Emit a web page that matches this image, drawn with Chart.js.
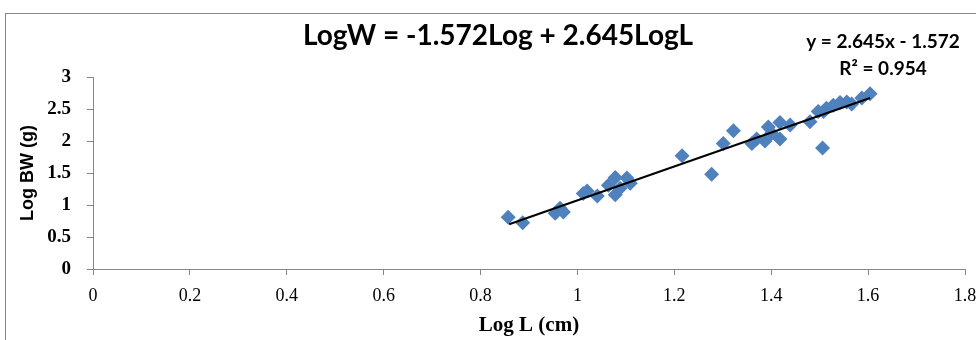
<!DOCTYPE html>
<html>
<head>
<meta charset="utf-8">
<script src="https://cdn.jsdelivr.net/npm/chart.js@4.4.1/dist/chart.umd.min.js"></script>
<style>
  body { margin: 0; background: #fff; }
  #wrap { position: relative; width: 976px; height: 340px; }
</style>
</head>
<body>
<div id="wrap"><canvas id="chart" width="976" height="340"></canvas></div>
<script>
// length-weight data
const logL = [0.857, 0.887, 0.954, 0.964, 0.971, 1.012, 1.020, 1.041, 1.064, 1.078,
  1.078, 1.088, 1.102, 1.109, 1.216, 1.277, 1.301, 1.322, 1.360, 1.370,
  1.387, 1.394, 1.401, 1.418, 1.418, 1.439, 1.480, 1.506, 1.497, 1.508,
  1.514, 1.528, 1.542, 1.556, 1.566, 1.587, 1.604];
const logW = [0.807, 0.724, 0.87, 0.948, 0.89, 1.18, 1.22, 1.14, 1.31, 1.43,
  1.16, 1.26, 1.42, 1.34, 1.77, 1.48, 1.96, 2.16, 1.96, 2.03,
  2.0, 2.22, 2.12, 2.03, 2.29, 2.25, 2.30, 1.89, 2.46, 2.46,
  2.51, 2.56, 2.6, 2.61, 2.58, 2.67, 2.74];

// trendline end points
const trendX = [0.859, 1.604];
const trendY = [0.700, 2.671];

const chartTitle = 'LogW = -1.572Log + 2.645LogL';
const eqLines = ['y = 2.645x - 1.572', 'R\u00B2 = 0.954'];
const xTitle = 'Log L (cm)';
const yTitle = 'Log BW (g)';

const gray = '#868686';

const decor = {
  id: 'decor',
  beforeDraw(chart) {
    const ctx = chart.ctx;
    ctx.save();
    ctx.strokeStyle = gray;
    ctx.lineWidth = 1;
    ctx.strokeRect(5.5, 13.5, 1000, 400);
    ctx.restore();
  },
  afterDraw(chart) {
    const ctx = chart.ctx;
    ctx.save();
    ctx.fillStyle = '#000';
    ctx.textAlign = 'center';
    ctx.textBaseline = 'alphabetic';
    ctx.font = 'bold 28px Lato';
    ctx.fillText(chartTitle, 498, 45);
    ctx.font = 'bold 19px Lato';
    ctx.fillText(eqLines[0], 883, 48);
    ctx.fillText(eqLines[1], 883, 75);
    ctx.restore();
  }
};

new Chart(document.getElementById('chart'), {
  type: 'scatter',
  data: {
    datasets: [
      {
        type: 'line',
        data: trendX.map((x, i) => ({ x, y: trendY[i] })),
        borderColor: '#000',
        borderWidth: 2,
        pointRadius: 0,
        order: 0
      },
      {
        data: logL.map((x, i) => ({ x, y: logW[i] })),
        pointStyle: 'rectRot',
        pointRadius: 7.5,
        backgroundColor: '#4F81BD',
        borderColor: '#4F81BD',
        borderWidth: 0,
        order: 1
      }
    ]
  },
  options: {
    responsive: false,
    animation: false,
    layout: { padding: { top: 77, right: 11, left: 0, bottom: 0 } },
    plugins: { legend: { display: false }, tooltip: { enabled: false } },
    scales: {
      x: {
        type: 'linear', min: 0, max: 1.8,
        afterFit(s) { s.height = 71; s.paddingLeft = 0; s.paddingRight = 0; },
        border: { color: gray, width: 1 },
        grid: { drawOnChartArea: false, tickLength: 6, color: gray },
        ticks: {
          stepSize: 0.2, padding: 10, color: '#000',
          font: { family: 'Liberation Serif', size: 18 },
          callback: v => +v.toFixed(1)
        },
        title: {
          display: true, text: xTitle, color: '#000',
          font: { family: 'Liberation Serif', size: 21, weight: 'bold' },
          padding: { top: 0, bottom: 2 }
        }
      },
      y: {
        type: 'linear', min: 0, max: 3,
        afterFit(s) { s.width = 93; s.paddingTop = 0; s.paddingBottom = 0; },
        border: { color: gray, width: 1 },
        grid: { drawOnChartArea: false, tickLength: 6, color: gray },
        ticks: {
          stepSize: 0.5, padding: 16, color: '#000',
          font: { family: 'Liberation Serif', size: 19, weight: 'bold' },
          callback: v => +v.toFixed(1)
        },
        title: {
          display: true, text: yTitle, color: '#000',
          font: { family: 'Liberation Sans', size: 18, weight: 'bold' },
          padding: { top: 17, bottom: 0 }
        }
      }
    }
  },
  plugins: [decor]
});
</script>
</body>
</html>
